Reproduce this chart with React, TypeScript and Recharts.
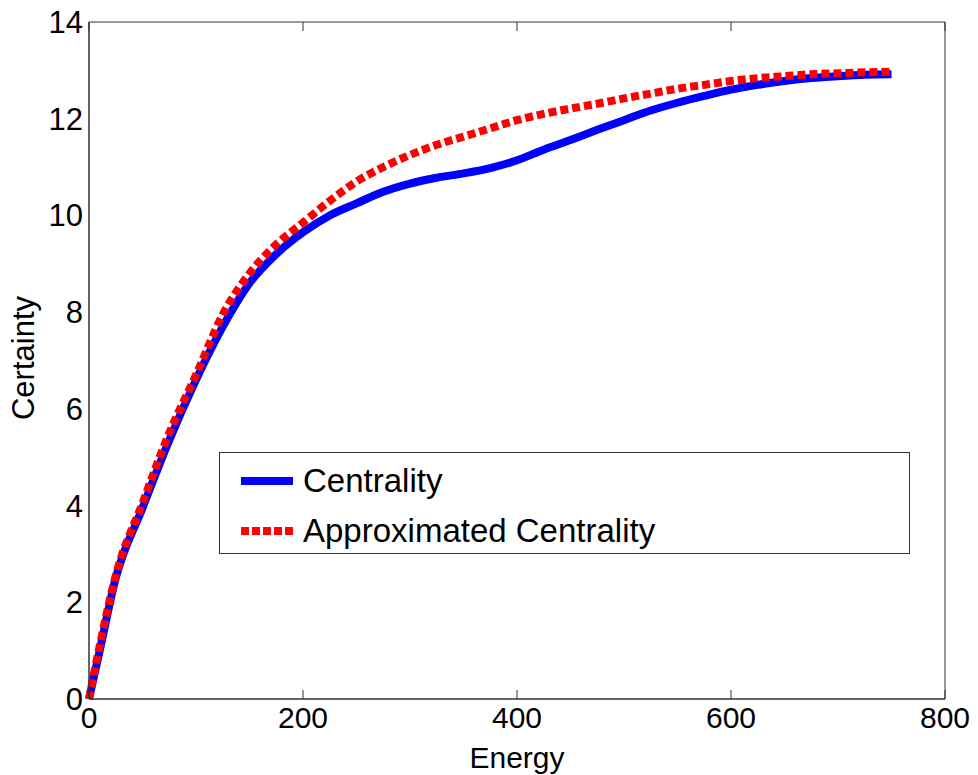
import { LineChart, Line, XAxis, YAxis } from "recharts"

const energy = [0, 10, 25, 50, 75, 100, 125, 150, 175, 200, 225, 250, 275, 300, 325, 350, 375, 400, 425, 450, 475, 500, 525, 550, 575, 600, 625, 650, 675, 700, 725, 750]
const centrality = [0, 1.0, 2.5, 3.95, 5.35, 6.6, 7.7, 8.6, 9.2, 9.65, 10.0, 10.25, 10.49, 10.66, 10.78, 10.87, 10.98, 11.14, 11.36, 11.56, 11.77, 11.97, 12.17, 12.33, 12.47, 12.6, 12.7, 12.78, 12.84, 12.88, 12.91, 12.92]
const approximated = [0, 1.1, 2.55, 4.05, 5.5, 6.7, 7.95, 8.8, 9.4, 9.85, 10.3, 10.7, 11.0, 11.25, 11.46, 11.63, 11.8, 11.97, 12.1, 12.21, 12.31, 12.42, 12.52, 12.62, 12.7, 12.78, 12.84, 12.88, 12.92, 12.94, 12.96, 12.97]
const xTicks = [0, 200, 400, 600, 800]
const yTicks = [0, 2, 4, 6, 8, 10, 12, 14]

const data = energy.map((e, i) => ({ energy: e, centrality: centrality[i], approx: approximated[i] }))

const font = "'Liberation Sans', Arial, sans-serif"
const axisColor = "#333"

function CertaintyLabel() {
  return (
    <text x={34} y={358} transform="rotate(-90 34 358)" textAnchor="middle" fontSize={31} fontFamily={font} fill="#000">
      Certainty
    </text>
  )
}

// frame axes draw tick marks only, no labels
const noLabel = () => <g />
const tickStroke = { stroke: axisColor, strokeWidth: 1 }

export default function App() {
  return (
    <div style={{ position: "absolute", left: 0, top: 0, width: 978, height: 775, background: "#fff" }}>
      <LineChart width={978} height={775} data={data} margin={{ top: 22, right: 33, bottom: 0, left: 0 }}>
        {/* labelled axes */}
        <XAxis
          dataKey="energy"
          type="number"
          domain={[0, 800]}
          ticks={xTicks}
          height={76}
          stroke={axisColor}
          tickLine={false}
          tickSize={0}
          tickMargin={8}
          tick={{ fontSize: 30, fill: "#000", fontFamily: font }}
          label={{ value: "Energy", position: "insideBottom", offset: 7, fontSize: 30, fill: "#000", fontFamily: font }}
        />
        <YAxis
          type="number"
          domain={[0, 14]}
          ticks={yTicks}
          width={89}
          stroke={axisColor}
          tickLine={false}
          tickSize={0}
          tickMargin={6}
          tick={{ fontSize: 31, fill: "#000", fontFamily: font }}
          label={<CertaintyLabel />}
        />
        {/* mirrored axes: box frame with inward ticks */}
        <XAxis xAxisId="b" mirror orientation="bottom" dataKey="energy" type="number" domain={[0, 800]} ticks={xTicks} stroke={axisColor} tickLine={tickStroke} tickSize={9} tick={noLabel} />
        <XAxis xAxisId="t" mirror orientation="top" dataKey="energy" type="number" domain={[0, 800]} ticks={xTicks} stroke={axisColor} tickLine={tickStroke} tickSize={9} tick={noLabel} />
        <YAxis yAxisId="l" mirror orientation="left" type="number" domain={[0, 14]} ticks={yTicks} stroke={axisColor} tickLine={tickStroke} tickSize={9} tick={noLabel} />
        <YAxis yAxisId="r" mirror orientation="right" type="number" domain={[0, 14]} ticks={yTicks} stroke={axisColor} tickLine={tickStroke} tickSize={9} tick={noLabel} />
        <Line type="monotone" dataKey="centrality" stroke="#0000ff" strokeWidth={8} dot={false} isAnimationActive={false} />
        <Line type="monotone" dataKey="approx" stroke="#ff0000" strokeWidth={8} strokeDasharray="8 4" dot={false} isAnimationActive={false} />
      </LineChart>
      <div
        style={{
          position: "absolute",
          left: 219,
          top: 452,
          width: 689,
          height: 100,
          border: `1px solid ${axisColor}`,
          background: "#fff",
          fontFamily: font,
          fontSize: 33,
          color: "#000",
        }}
      >
        <div style={{ position: "absolute", left: 21, top: 10, height: 36, display: "flex", alignItems: "center" }}>
          <svg width={52} height={10}>
            <line x1={0} y1={5} x2={52} y2={5} stroke="#0000ff" strokeWidth={8} />
          </svg>
          <span style={{ marginLeft: 10 }}>Centrality</span>
        </div>
        <div style={{ position: "absolute", left: 21, top: 60, height: 36, display: "flex", alignItems: "center" }}>
          <svg width={52} height={10}>
            <line x1={0} y1={5} x2={52} y2={5} stroke="#ff0000" strokeWidth={8} strokeDasharray="8 3" />
          </svg>
          <span style={{ marginLeft: 10 }}>Approximated Centrality</span>
        </div>
      </div>
    </div>
  )
}
